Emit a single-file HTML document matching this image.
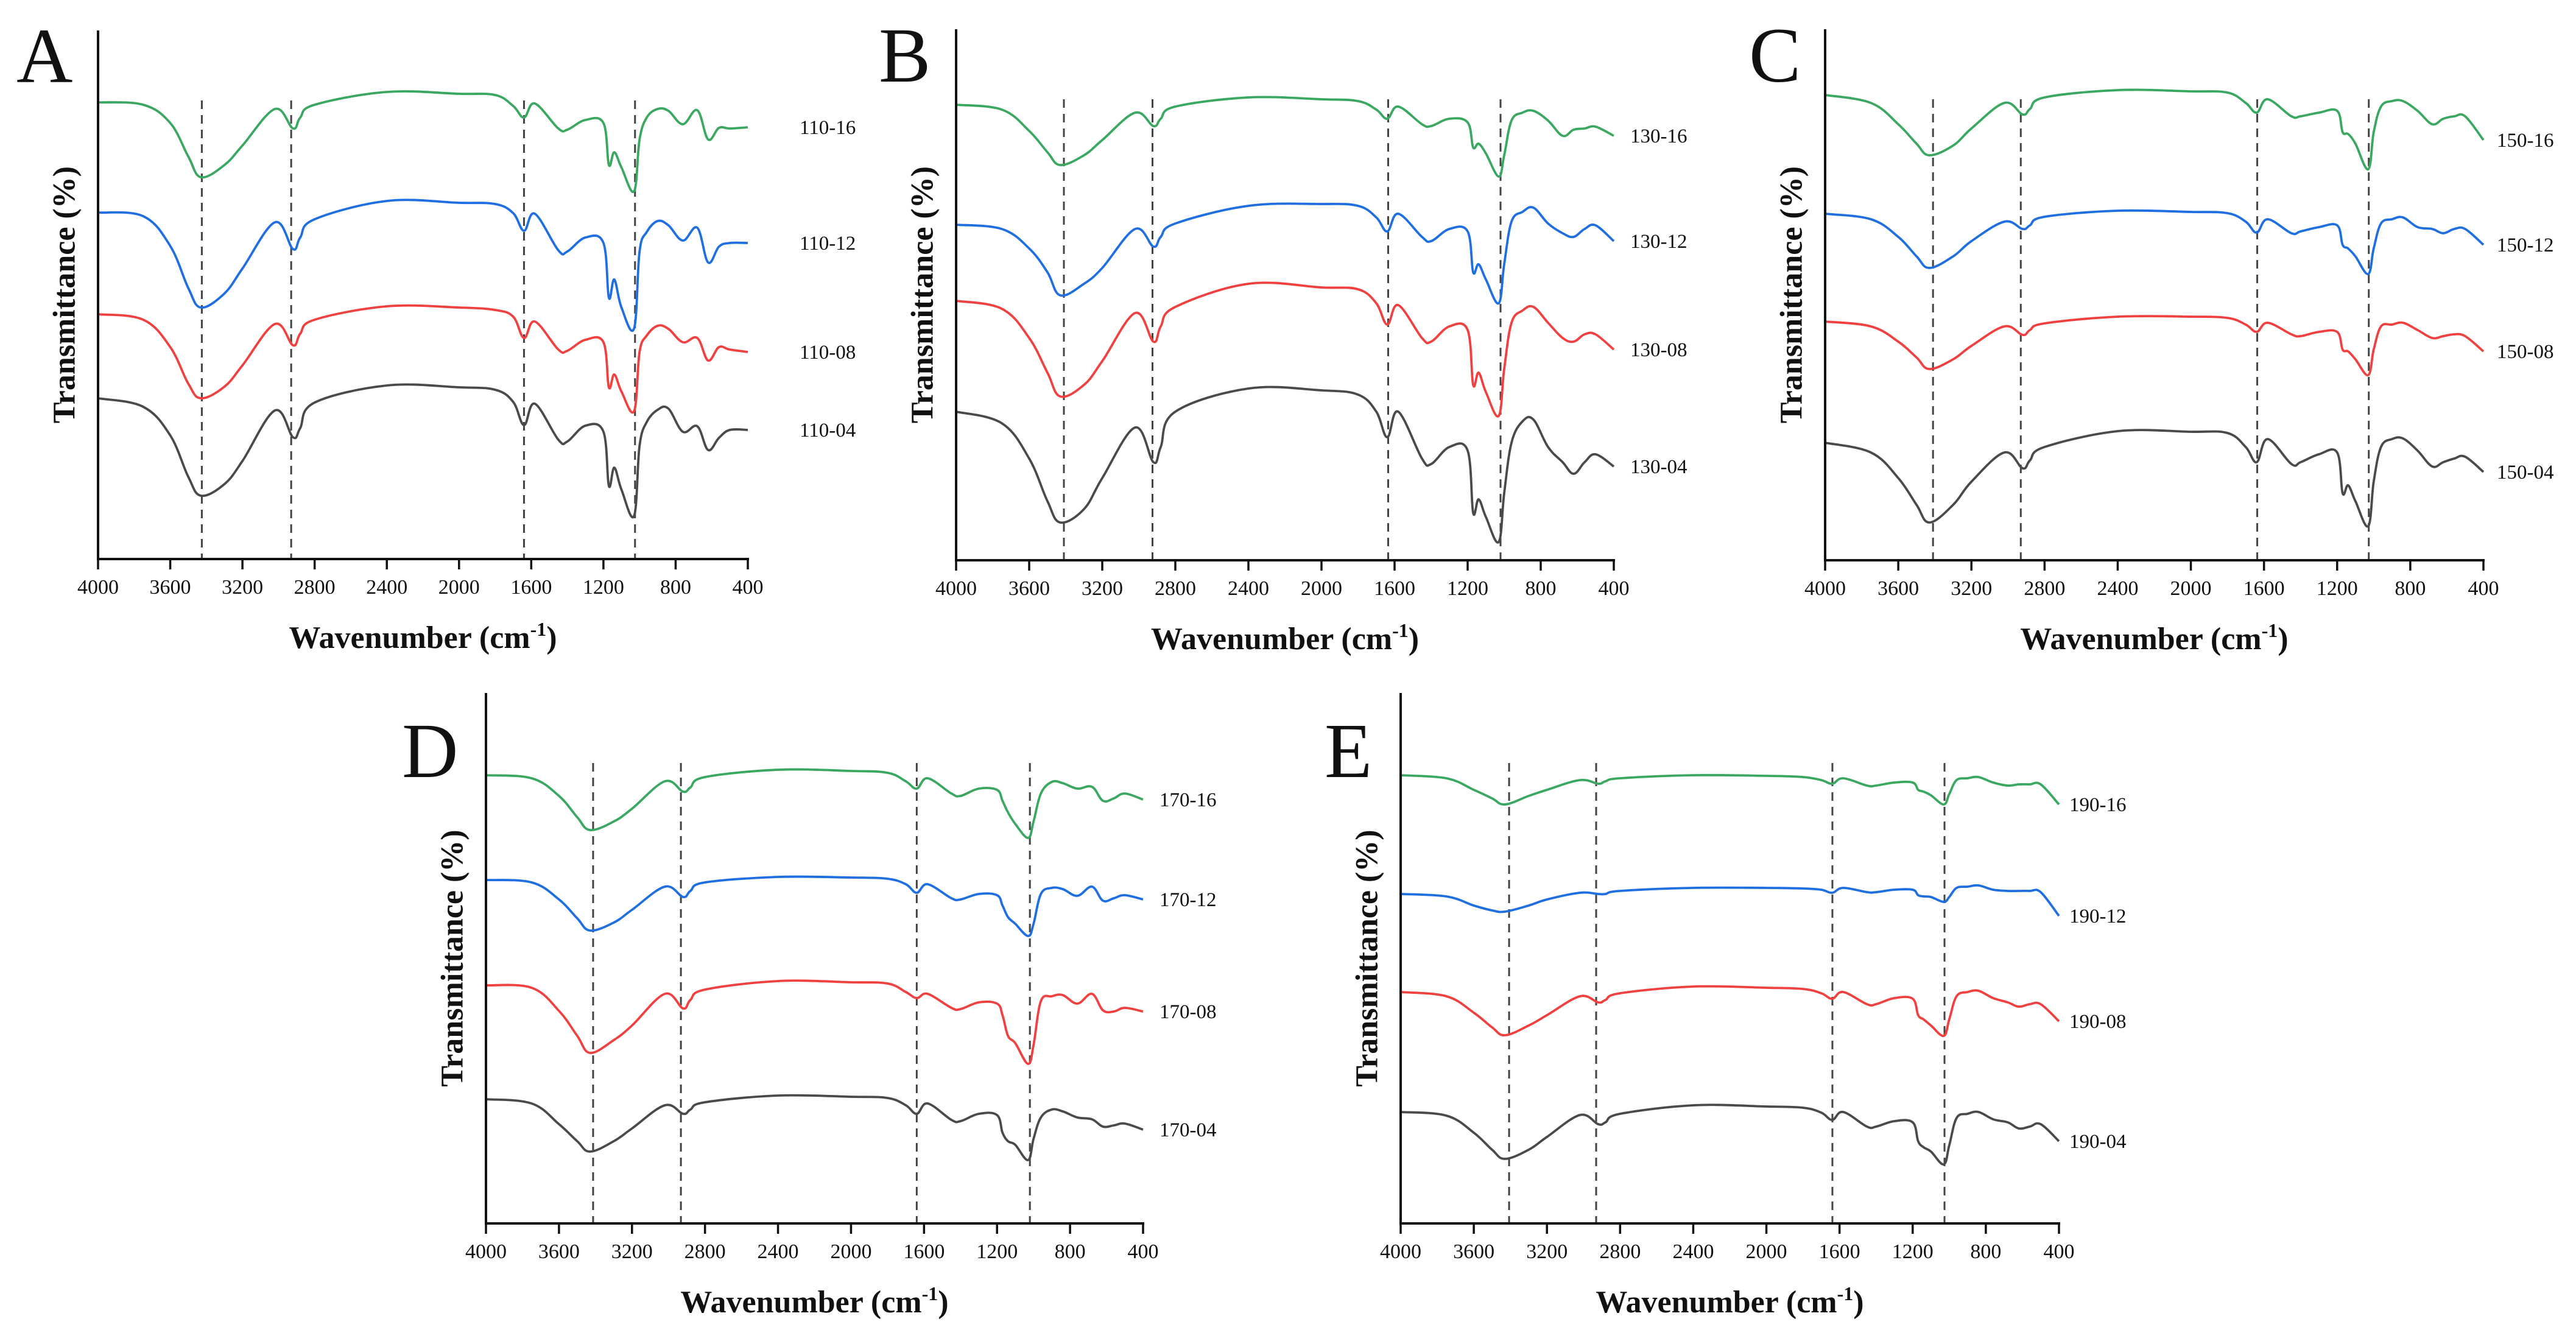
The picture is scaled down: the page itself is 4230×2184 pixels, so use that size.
<!DOCTYPE html>
<html><head><meta charset="utf-8"><style>
html,body{margin:0;padding:0;background:#fff;}
svg{display:block;}
text{font-family:"Liberation Serif",serif;fill:#111;}
</style></head><body>
<svg id="fig" width="4230" height="2184" viewBox="0 0 4230 2184" xmlns="http://www.w3.org/2000/svg">
<rect x="0" y="0" width="4230" height="2184" fill="#fff"/>
</svg>
<script>
// Common wavenumber sample points (cm-1)
const wavenumbers = [4000,3750,3600,3500,3430,3300,3200,3020,2920,2880,2800,2400,2000,1800,1700,1640,1580,1450,1400,1300,1200,1170,1140,1100,1030,1000,960,900,840,760,680,620,560,500,400];
const xTicks = [4000,3600,3200,2800,2400,2000,1600,1200,800,400];
const xTickLabels = ["4000","3600","3200","2800","2400","2000","1600","1200","800","400"];
const seriesColors = ["#3aa860","#1f6fe0","#f04040","#4a4a4a"];

// Panel A (110-xx)
const labelsA = ["110-16","110-12","110-08","110-04"];
const dashA = [3425,2930,1640,1025];
const a16 = [75.0,74.6,71.6,66.1,62.7,64.7,67.9,73.9,70.7,72.5,74.6,76.7,76.4,76.2,74.4,72.5,74.8,70.7,70.5,72.1,71.6,64.7,66.8,64.3,60.4,68.9,72.5,73.9,73.6,71.4,73.7,68.9,70.8,70.7,70.9];
const a12 = [56.9,56.3,51.4,44.5,41.3,43.6,47.7,55.3,50.9,52.8,55.8,58.8,58.5,58.3,56.8,53.9,56.7,50.7,50.5,52.8,51.9,42.9,45.9,41.3,37.9,50.5,53.7,55.5,54.8,52.3,54.4,48.7,51.3,51.9,51.9];
const a08 = [40.2,39.3,34.8,28.8,26.4,28.3,31.8,38.6,35.1,37.0,39.3,41.5,41.3,40.9,39.8,36.3,39.0,34.4,34.2,36.0,35.6,28.2,30.3,27.5,24.3,34.0,36.7,38.3,37.8,35.6,36.3,32.6,34.8,34.4,34.0];
const a04 = [26.4,25.0,20.3,13.5,10.4,12.3,16.1,24.4,20.0,21.5,25.7,28.5,28.2,27.8,25.8,22.0,25.5,19.6,19.3,21.9,20.9,12.0,15.0,11.4,7.1,18.6,22.5,24.5,24.7,20.9,21.8,17.9,19.9,21.2,21.2];

// Panel B (130-xx)
const labelsB = ["130-16","130-12","130-08","130-04"];
const dashB = [3410,2925,1635,1020];
const b16 = [74.8,74.0,70.5,67.0,64.9,66.5,69.0,73.5,71.3,72.5,74.5,76.0,75.7,75.4,74.0,72.5,74.5,71.6,71.3,72.5,71.9,67.8,68.4,66.8,63.0,66.5,72.2,73.5,73.8,72.2,69.7,70.7,70.9,71.2,69.7];
const b12 = [55.1,54.4,51.2,47.3,43.5,45.4,48.0,54.4,51.5,53.1,55.3,58.2,58.5,58.2,56.3,54.0,56.9,53.1,52.4,54.4,54.0,47.3,48.6,46.1,42.2,48.6,55.6,57.2,57.9,55.3,53.7,53.1,54.4,55.0,52.4];
const b08 = [42.6,41.3,36.5,30.8,26.9,28.8,32.7,40.6,35.9,38.4,41.6,45.4,44.8,44.5,42.2,38.7,41.9,36.5,35.9,38.4,37.8,28.8,30.8,27.6,23.7,31.4,39.0,41.0,41.6,39.0,36.5,35.9,37.1,37.1,34.6];
const b04 = [24.4,22.5,16.7,9.7,6.2,8.4,13.5,21.8,16.1,18.6,24.4,28.2,27.9,27.2,24.4,20.2,24.4,16.7,15.8,18.6,18.0,7.8,10.0,7.1,3.0,11.0,19.3,22.8,23.1,18.6,16.1,14.2,16.1,17.4,15.4];

// Panel C (150-xx)
const labelsC = ["150-16","150-12","150-08","150-04"];
const dashC = [3410,2930,1637,1027];
const c16 = [76.4,75.1,71.6,68.4,66.5,68.1,70.9,75.1,73.2,74.1,76.0,77.2,77.0,76.8,75.1,73.5,75.7,72.9,72.9,73.5,73.8,70.3,70.0,68.4,64.2,70.3,74.5,75.4,75.4,73.8,71.6,72.5,72.9,72.9,69.0];
const c12 = [56.9,56.0,53.1,49.9,48.0,49.9,52.4,55.6,54.4,55.0,56.4,57.4,57.2,57.0,55.6,53.8,56.0,53.7,54.0,54.7,55.0,51.8,51.2,49.9,47.0,51.2,55.3,56.0,56.3,54.7,54.4,53.7,54.4,54.4,51.8];
const c08 = [39.2,38.4,35.9,33.3,31.4,33.0,35.2,38.4,37.0,37.8,38.9,40.0,40.0,39.8,38.7,37.5,39.0,37.1,36.8,37.5,37.5,34.6,34.3,33.0,30.4,34.6,38.4,38.7,39.0,37.8,36.5,36.8,37.1,36.8,34.3];
const c04 = [19.3,17.7,13.5,9.1,6.2,9.1,12.9,17.7,15.1,16.4,18.6,21.2,21.1,20.9,18.6,16.1,19.9,15.8,16.1,17.4,17.7,11.0,12.3,9.7,5.6,12.9,18.6,19.9,20.0,18.0,15.4,16.1,16.7,17.0,14.5];

// Panel D (170-xx)
const labelsD = ["170-16","170-12","170-08","170-04"];
const dashD = [3413,2932,1640,1020];
const d16 = [73.6,73.1,70.2,66.7,64.6,66.0,68.1,72.6,70.9,71.6,73.3,74.5,74.3,74.0,72.6,71.4,73.1,70.6,70.2,71.4,71.2,69.4,67.5,65.6,63.3,66.0,70.6,72.5,72.3,71.4,71.7,69.4,69.8,70.6,69.6];
const d12 = [56.4,56.0,53.2,50.1,48.1,49.4,51.5,55.3,53.6,54.6,56.0,56.9,56.8,56.6,55.7,54.3,55.7,53.4,53.2,54.1,53.9,52.2,50.3,49.2,47.2,49.2,54.1,55.1,54.9,53.8,55.3,53.0,53.4,53.9,53.2];
const d08 = [39.1,38.7,34.9,30.8,28.0,30.1,32.5,37.7,35.3,36.7,38.4,39.8,39.6,39.4,38.0,37.0,37.7,35.4,35.2,36.3,36.1,34.2,30.8,29.6,26.2,29.3,36.5,37.3,37.5,36.1,37.7,35.0,34.8,35.4,34.8];
const d04 = [20.4,19.7,16.3,13.5,11.8,13.5,15.6,19.4,18.0,18.7,19.9,21.0,20.8,20.6,19.4,18.0,19.7,17.0,16.8,18.0,17.8,14.9,13.5,12.9,10.4,13.9,17.4,18.7,18.4,17.4,17.1,15.9,16.1,16.4,15.4];

// Panel E (190-xx)
const labelsE = ["190-16","190-12","190-08","190-04"];
const dashE = [3407,2931,1639,1026];
const e16 = [73.6,73.1,71.2,69.8,68.8,70.2,71.2,72.8,72.2,72.6,73.1,73.6,73.5,73.3,72.8,72.2,73.1,71.9,71.9,72.4,72.4,71.2,70.9,70.3,68.8,70.5,72.8,73.1,73.3,72.4,71.9,72.1,72.1,72.1,68.8];
const e12 = [54.1,53.7,52.2,51.4,51.2,52.2,53.2,54.3,54.1,54.1,54.6,55.1,55.1,55.0,54.8,54.3,55.1,54.4,54.4,54.8,54.8,53.9,53.7,53.6,52.8,53.6,55.1,55.3,55.5,54.8,54.6,54.6,54.6,54.4,50.5];
const e08 = [38.0,37.3,34.6,32.2,30.9,32.5,34.2,37.3,36.3,36.7,37.8,38.9,38.7,38.5,37.8,36.9,38.0,36.0,36.0,37.0,36.9,34.2,33.5,32.5,30.8,33.5,37.3,38.0,38.2,37.0,36.3,35.6,36.0,36.0,33.2];
const e04 = [18.3,17.7,14.9,12.1,10.6,12.1,14.2,17.8,16.3,16.6,18.0,19.4,19.2,19.0,18.2,17.0,18.3,15.9,15.9,16.8,16.6,13.5,12.5,11.8,9.7,12.8,17.3,18.0,18.3,17.1,16.6,15.6,15.9,16.3,13.5];

const NS = "http://www.w3.org/2000/svg";
const svg = document.getElementById('fig');
function mk(tag, attrs, parent){
  const e = document.createElementNS(NS, tag);
  for (const k in attrs) e.setAttribute(k, attrs[k]);
  (parent||svg).appendChild(e);
  return e;
}

const panels = [
  {id:'a', letter:'A', lx:27, ly:135, x0:161, x1:1228, top:50, bottom:918, yMax:86.8, series:[a16,a12,a08,a04], labels:labelsA, dash:dashA, labelX:1313},
  {id:'b', letter:'B', lx:1443, ly:134, x0:1570, x1:2650, top:48, bottom:920, yMax:87.2, series:[b16,b12,b08,b04], labels:labelsB, dash:dashB, labelX:2677},
  {id:'c', letter:'C', lx:2872, ly:134, x0:2997, x1:4078, top:48, bottom:920, yMax:87.2, series:[c16,c12,c08,c04], labels:labelsC, dash:dashC, labelX:4100},
  {id:'d', letter:'D', lx:660, ly:1276, x0:798, x1:1877, top:1138, bottom:2009, yMax:87.1, series:[d16,d12,d08,d04], labels:labelsD, dash:dashD, labelX:1904},
  {id:'e', letter:'E', lx:2175, ly:1276, x0:2300, x1:3381, top:1138, bottom:2009, yMax:87.1, series:[e16,e12,e08,e04], labels:labelsE, dash:dashE, labelX:3398}
];

function pathFrom(pts){
  let d = 'M' + pts[0][0].toFixed(1) + ' ' + pts[0][1].toFixed(1);
  for (let i=0;i<pts.length-1;i++){
    const p0 = pts[Math.max(0,i-1)], p1 = pts[i], p2 = pts[i+1], p3 = pts[Math.min(pts.length-1,i+2)];
    const t = 0.18;
    const c1x = p1[0] + (p2[0]-p0[0])*t, c1y = p1[1] + (p2[1]-p0[1])*t;
    const c2x = p2[0] - (p3[0]-p1[0])*t, c2y = p2[1] - (p3[1]-p1[1])*t;
    d += ' C' + c1x.toFixed(1)+' '+c1y.toFixed(1)+' '+c2x.toFixed(1)+' '+c2y.toFixed(1)+' '+p2[0].toFixed(1)+' '+p2[1].toFixed(1);
  }
  return d;
}

panels.forEach(p => {
  const g = mk('g', {});
  
  
  const xs = w => p.x0 + (4000 - w) / 3600 * (p.x1 - p.x0);
  const ys = v => p.bottom - v / p.yMax * (p.bottom - p.top);

  const letter = mk('text', {x:p.lx, y:p.ly, 'font-size':128}, g);
  letter.textContent = p.letter;
  
  

  p.dash.forEach((w, i) => {
    const ln = mk('line', {x1:xs(w), x2:xs(w), y1:p.top+115, y2:p.bottom, stroke:'#444', 'stroke-width':3, 'stroke-dasharray':'14 10'}, g);
    
    
  });

  p.series.forEach((vals, si) => {
    const pts = wavenumbers.map((w, k) => [xs(w), ys(vals[k])]);
    const path = mk('path', {d:pathFrom(pts), fill:'none', stroke:seriesColors[si], 'stroke-width':3.8, 'stroke-linejoin':'round'}, g);
    
    
    const lab = mk('text', {x:p.labelX, y:ys(vals[vals.length-1]) + 11, 'font-size':33, fill:'#222'}, g);
    lab.textContent = p.labels[si];
    
    
  });

  const yAx = mk('line', {x1:p.x0, x2:p.x0, y1:p.top, y2:p.bottom, stroke:'#111', 'stroke-width':4}, g);
  
  
  const xAx = mk('line', {x1:p.x0-2, x2:p.x1+2, y1:p.bottom, y2:p.bottom, stroke:'#111', 'stroke-width':4}, g);
  
  
  xTicks.forEach((w, i) => {
    const tk = mk('line', {x1:xs(w), x2:xs(w), y1:p.bottom, y2:p.bottom+17, stroke:'#111', 'stroke-width':3.5}, g);
    
    
    const tl = mk('text', {x:xs(w), y:p.bottom+57, 'font-size':34, 'text-anchor':'middle', fill:'#222'}, g);
    tl.textContent = xTickLabels[i];
    
    
  });
  const xt = mk('text', {x:(p.x0+p.x1)/2, y:p.bottom+146, 'font-size':52, 'font-weight':'bold', 'text-anchor':'middle'}, g);
  xt.innerHTML = 'Wavenumber (cm<tspan dy="-20" font-size="32">-1</tspan><tspan dy="20">)</tspan>';
  
  
  const cy = (p.top + p.bottom) / 2;
  const yt = mk('text', {x:p.x0-55, y:cy, 'font-size':52, 'font-weight':'bold', 'text-anchor':'middle', 'dominant-baseline':'central', transform:'rotate(-90 '+(p.x0-55)+' '+cy+')'}, g);
  yt.textContent = 'Transmittance (%)';
  
  
});
</script>
</body></html>
